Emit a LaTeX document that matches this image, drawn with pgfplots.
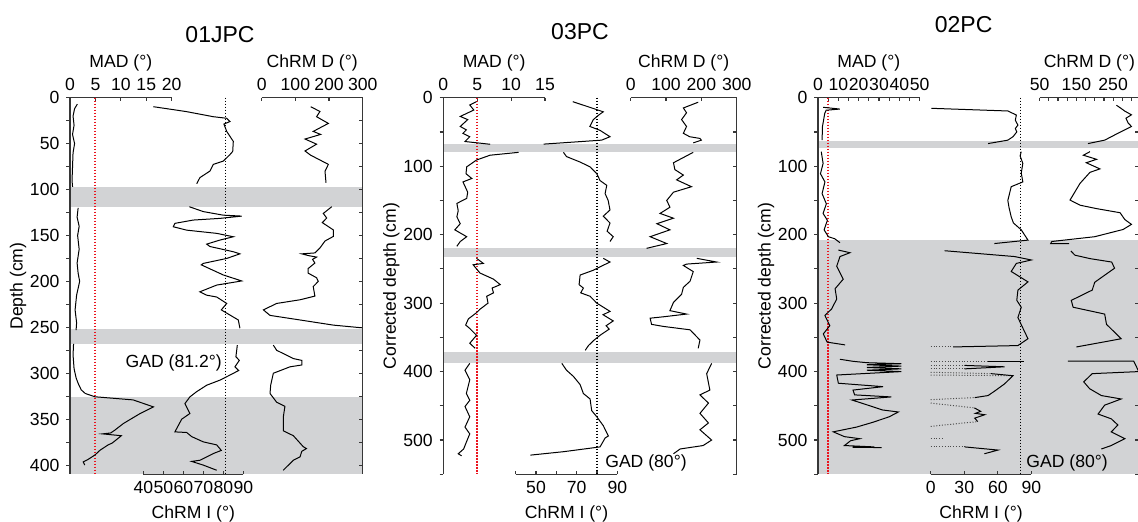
\documentclass[border=0pt]{standalone}
\usepackage{fontspec}
\setmainfont{Liberation Sans}
\usepackage{pgfplots}
\pgfplotsset{compat=1.18}
\definecolor{band}{RGB}{210,211,213}
\definecolor{axcol}{RGB}{55,55,55}
\definecolor{redd}{RGB}{235,20,30}
\newcommand{\fs}{\fontsize{8.8}{10}\selectfont}
\pgfplotsset{
  base/.style={scale only axis, clip=false, y dir=reverse, ymin=0, anchor=north west,
    axis line style={axcol, line width=0.7pt},
    tick style={axcol, line width=0.6pt},
    major tick length=1.8pt, minor tick length=1.8pt,
    tick label style={font=\fs, text=black},
    label style={font=\fs},
    /pgf/number format/assume math mode=true,
    cycle list={{black, mark=none, line width=0.5pt}},
  },
  frameL/.style={base, axis x line=none, axis y line*=left, tick align=outside, axis on top, ylabel shift=-5pt},
  frameR/.style={base, axis x line=none, axis y line*=right, tick align=inside, yticklabels={}},
  topax/.style={base, axis y line=none, axis x line*=top, tick align=inside, xlabel shift=-3.5pt},
  botax/.style={base, axis y line=none, axis x line*=bottom, tick align=inside, xlabel shift=-1pt},
  redl/.style={draw=redd, color=redd, dash pattern=on 0.9pt off 0.6pt, line width=1pt, mark=none},
  gadl/.style={draw=black, dash pattern=on 0.6pt off 0.9pt, line width=0.6pt, mark=none},
  dotl/.style={draw=black!70, dash pattern=on 0.5pt off 0.9pt, line width=0.5pt, mark=none},
  ln/.style={draw=black, line width=0.5pt, mark=none},
}
\begin{document}
\begin{tikzpicture}
\useasboundingbox (0,0) rectangle (569pt,-261pt);
%================ PANEL 1: 01JPC =================
\node[font=\fontsize{11.5}{13}\selectfont] at (110pt,-17.5pt) {01JPC};
\begin{axis}[frameL, at={(35pt,-48.85pt)}, width=146.35pt, height=188.3pt, ymax=410, xmin=0, xmax=1,
  ytick={0,50,...,400}, minor ytick={25,75,...,375}, ylabel={Depth (cm)}]
\addplot[fill=band, draw=none] coordinates {(0,97) (1,97) (1,119) (0,119)} -- cycle;
\addplot[fill=band, draw=none] coordinates {(0,252) (1,252) (1,268.6) (0,268.6)} -- cycle;
\addplot[fill=band, draw=none] coordinates {(0,325.7) (1,325.7) (1,410) (0,410)} -- cycle;
\end{axis}
\begin{axis}[frameR, at={(35pt,-48.85pt)}, width=146.35pt, height=188.3pt, ymax=410, xmin=0, xmax=1,
  ytick={0,50,...,400}, minor ytick={25,75,...,375}]
\end{axis}
% MAD
\begin{axis}[topax, at={(35pt,-48.85pt)}, width=50.85pt, height=188.3pt, ymax=410, xmin=0, xmax=20,
  xtick={0,5,...,20}, xlabel={MAD (°)}]
\addplot[redl] coordinates {(5,0) (5,410)};
\addplot[ln] coordinates {(1.44,7) (0.9,12) (0.6,20) (0.8,30) (0.5,40) (0.9,50) (0.6,60) (0.5,75) (0.4,90) (0.5,97)};
\addplot[ln] coordinates {(1.6,120) (1.4,130) (1.8,140) (1.5,150) (1.8,165) (1.4,180) (1.6,191) (1.9,200) (1.3,215) (1.0,231) (1.3,245) (1.2,253)};
\addplot[ln] coordinates {(0.7,268) (0.6,280) (0.8,295) (1.2,305) (1.6,311) (2.2,318) (3.0,322) (4.9,325.6) (8,327) (12.4,329) (16.4,336.6) (13.8,343.8) (10.5,354.7) (8.8,362) (8.0,365) (6.4,366) (10.1,368) (8.3,376) (7.5,378) (5.9,383.8) (4.9,389) (3.5,394) (2.6,396.5) (2.9,400)};
\end{axis}
% ChRM I
\begin{axis}[botax, at={(71.65pt,-48.85pt)}, width=50pt, height=188.3pt, ymax=410, xmin=40, xmax=90,
  xtick={40,50,...,90}, xlabel={ChRM I (°)}]
\addplot[gadl] coordinates {(81.2,0) (81.2,410)};
\node[font=\fs, anchor=east, inner sep=0pt] at (axis cs:79.4,289) {GAD (81.2°)};
\addplot[ln] coordinates {(45,9.8) (55,13) (61.7,15.2) (75,20.7) (81.7,22.4) (83.3,26) (80.3,28.7) (81.7,36.7) (85,47.6) (84.7,58.5) (83.3,62) (80,69) (75,72.6) (73.3,79.9) (68.3,87) (66.7,93.7)};
\addplot[ln] coordinates {(63,118.7) (70,124) (80,127.9) (89.2,128.9) (78.3,131.4) (65,133.2) (55.8,136.8) (55,140.5) (61.7,144.2) (76.7,147.7) (85,151.4) (78.3,155) (71.7,159.4) (73.3,162) (85,167.7) (88.3,170) (81.7,175) (70,180.4) (69,182) (80,193) (89.2,199.5) (76.7,204) (68.3,211.3) (71.7,215) (76.7,217) (81.7,224) (79,231) (83.3,236.6) (87.5,242) (88.3,251)};
\addplot[ln] coordinates {(87,269.4) (86.3,282) (88,286) (85.8,293) (87.7,297) (83.3,302) (78.3,307.5) (71.7,313) (66.7,320) (63.3,325.7) (60.8,333) (63.3,343.8) (59.2,350) (55.8,363.8) (61.7,364.5) (64.2,369) (70,374.7) (76.7,378) (79,384) (75,387.4) (68.3,394.7) (64.2,396) (70,400) (76.7,405.6)};
\end{axis}
% ChRM D
\begin{axis}[topax, at={(130.85pt,-48.85pt)}, width=50.5pt, height=188.3pt, ymax=410, xmin=0, xmax=300,
  xtick={0,100,200,300}, xlabel={ChRM D (°)}]
\addplot[ln] coordinates {(145.5,9.8) (173,15) (163,20.7) (198,28) (153,36.7) (175,40) (128.6,45) (163,50.6) (128.6,58) (145,62.5) (198,72.6) (188,80) (191,92.6)};
\addplot[ln] coordinates {(208,118.7) (183,126) (193,131) (180,136) (213,144) (213,151) (188,156) (173,163.6) (158,169) (119,170) (140,172) (163,173.5) (151,176) (158,180) (138,186) (138,191) (163,196) (168,200) (153,205.6) (158,216) (114,220) (44.5,224) (5,231) (24.6,237) (114,242) (213,247.6) (297,250.5)};
\addplot[ln] coordinates {(34.5,269.4) (44.5,275) (94,284) (119,286) (119,291) (84,293) (34.5,300) (26.7,313) (24.7,322) (44.5,331.6) (69,336) (64,348) (64,362.6) (94,368) (123.6,380) (133,382) (119,385) (114,391) (94,394.7) (64,405.6)};
\end{axis}
%================ PANEL 2: 03PC =================
\node[font=\fontsize{11.5}{13}\selectfont] at (290pt,-16pt) {03PC};
\begin{axis}[frameL, at={(221.65pt,-48.85pt)}, width=146.7pt, height=188.3pt, ymax=550, xmin=0, xmax=1,
  ytick={0,100,...,500}, minor ytick={50,150,...,550}, ylabel={Corrected depth (cm)}]
\addplot[fill=band, draw=none] coordinates {(0,68) (1,68) (1,79) (0,79)} -- cycle;
\addplot[fill=band, draw=none] coordinates {(0,219.7) (1,219.7) (1,232.3) (0,232.3)} -- cycle;
\addplot[fill=band, draw=none] coordinates {(0,372) (1,372) (1,387) (0,387)} -- cycle;
\end{axis}
\begin{axis}[frameR, at={(221.65pt,-48.85pt)}, width=146.7pt, height=188.3pt, ymax=550, xmin=0, xmax=1,
  ytick={0,100,...,500}, minor ytick={50,150,...,550}]
\end{axis}
\begin{axis}[topax, at={(221.65pt,-48.85pt)}, width=50.85pt, height=188.3pt, ymax=550, xmin=0, xmax=15,
  xtick={0,5,10,15}, xlabel={MAD (°)}]
\addplot[redl] coordinates {(5,0) (5,550)};
\addplot[ln] coordinates {(4.9,5.8) (3.9,10.6) (4.5,18) (2.5,27.4) (3.6,32) (2.5,42) (3.4,47) (2.9,52) (3.9,57) (3.2,64) (6.9,68)};
\addplot[ln] coordinates {(11.1,79.8) (6.9,84) (4.9,91) (3.45,101) (3.35,111) (4.2,118) (2.9,123) (3.6,138) (3.45,147) (2.0,154.4) (2.2,165) (2.0,174) (2.5,184) (1.7,193) (3.45,203) (2.5,210) (2.0,217)};
\addplot[ln] coordinates {(4.9,234.6) (5.9,242) (4.4,244) (5.4,256) (7.4,265) (8.4,273) (7.2,278) (7.4,285) (6.4,290) (6.6,300) (5.4,309) (4.9,314) (3.7,323) (3.3,332) (3.9,337) (4.9,347) (3.9,358.6) (4.7,366)};
\addplot[ln] coordinates {(3.9,388) (3.2,398) (3.9,412) (3.4,432) (3.9,442) (3.2,451) (3.9,466) (3.2,481) (3.9,491) (3.4,503) (3.0,513) (2.2,520) (2.7,523)};
\end{axis}
\begin{axis}[botax, at={(257.85pt,-48.85pt)}, width=50.8pt, height=188.3pt, ymax=550, xmin=40, xmax=90,
  xtick={40,50,...,90}, xticklabels={,50,,70,,90}, xlabel={ChRM I (°)}]
\addplot[gadl] coordinates {(80,0) (80,550)};
\node[font=\fs, anchor=west, inner sep=0pt] at (axis cs:83.9,533.6) {GAD (80°)};
\addplot[ln] coordinates {(68.1,5.8) (83.1,20.6) (81,25) (78.2,32) (76.5,42) (81.5,47.7) (86.4,57) (82.3,62) (53.7,67.8)};
\addplot[ln] coordinates {(63.5,79.8) (65,86) (71.7,94) (76.6,101) (79.9,111) (81.5,121) (84.8,128) (84,140) (85.5,150) (86.4,164) (83.1,173) (86.4,183) (85,195) (88,203) (86.4,210)};
\addplot[ln] coordinates {(83.1,234.6) (86.4,240) (81.5,247) (78.2,252) (71.7,259) (71.2,273) (73.3,278) (72,285) (76.6,290) (79.9,300) (86.4,312) (83,317) (88,326) (84.5,333) (86,338) (81.5,347) (78.2,355) (75.8,362) (74.2,369)};
\addplot[ln] coordinates {(62.7,388) (65,398) (68.4,407) (71.7,419) (73.3,432) (76.6,440) (77.4,457) (79.9,466) (83.1,479) (85.6,494) (84,497) (81.5,510) (63.5,517) (47.2,522)};
\end{axis}
\begin{axis}[topax, at={(315.35pt,-48.85pt)}, width=53pt, height=188.3pt, ymax=550, xmin=0, xmax=300,
  xtick={0,100,200,300}, xlabel={ChRM D (°)}]
\addplot[ln] coordinates {(191,6.6) (149,15) (158,22) (144,32) (158,42) (149,52) (167,57) (196,59.5) (200,62) (177,66)};
\addplot[ln] coordinates {(177,79.8) (121,95) (125,105) (149,113) (130,120) (172,130) (121,138) (102,150) (111,160) (83,169) (121,176) (74,184) (111,193) (55,203) (102,213) (45,220)};
\addplot[ln] coordinates {(187,234.6) (243,240) (158,243) (149,245) (177,254) (168,268) (149,277) (144,287) (121,299) (111,311) (158,316) (92,320) (55,322) (59,331) (92,334) (168,339) (196,354) (191,366)};
\addplot[ln] coordinates {(229,388) (215,403) (224,427) (196,434) (220,446) (196,461) (220,475) (196,485) (229,500) (205,508) (140,513) (121,520)};
\end{axis}
%================ PANEL 3: 02PC =================
\node[font=\fontsize{11.5}{13}\selectfont] at (481.8pt,-12.5pt) {02PC};
\begin{axis}[frameL, at={(409pt,-48.85pt)}, width=160.5pt, height=188.3pt, ymax=550, xmin=0, xmax=1,
  ytick={0,100,...,500}, minor ytick={50,150,...,550}, ylabel={Corrected depth (cm)}]
\addplot[fill=band, draw=none] coordinates {(0,63.4) (1,63.4) (1,73) (0,73)} -- cycle;
\addplot[fill=band, draw=none] coordinates {(0,207.9) (1,207.9) (1,550) (0,550)} -- cycle;
\end{axis}
\begin{axis}[frameR, at={(409pt,-48.85pt)}, width=160.5pt, height=188.3pt, ymax=550, xmin=0, xmax=1,
  ytick={0,100,...,500}, minor ytick={50,150,...,550}]
\end{axis}
\begin{axis}[topax, at={(409pt,-48.85pt)}, width=50.85pt, height=188.3pt, ymax=550, xmin=0, xmax=50,
  xtick={0,10,...,50}, minor xtick={5,15,...,45}, xlabel={MAD (°)}]
\addplot[redl] coordinates {(5,0) (5,550)};
\addplot[ln] coordinates {(2.5,14) (10.7,16.6) (4,18.3) (3.3,23) (2.2,42) (2.0,62)};
\addplot[ln] coordinates {(1.6,78.8) (2.5,96) (1.2,111) (3.4,123) (2.0,140) (4.1,155) (2.5,169) (4.6,179) (3.0,193) (5.1,203) (8.2,206) (10.8,211.8)};
\addplot[ln] coordinates {(10,222.5) (15.7,226.4) (10.8,232) (9.2,246) (12.4,265) (8.4,279) (9.2,294) (6.7,308.5) (3.4,318) (5.8,333) (2.6,345) (4.5,357) (13.3,361)};
\addplot[ln] coordinates {(10.8,382) (17.2,385) (24,387) (41,388.5) (24,390) (41,392) (24,394) (41,396) (24,398) (41,400) (9.2,405) (10,417) (32,422) (17.2,427) (18,434) (36,437) (16.7,441.5) (24.5,449) (31.6,456) (39.5,459) (35,466) (27,474) (19,481) (7.5,488) (13,495) (20.5,498) (16,501) (13,508) (27.7,510) (17,510.5) (31.3,511)};
\end{axis}
\begin{axis}[botax, at={(465.35pt,-48.85pt)}, width=50.3pt, height=188.3pt, ymax=550, xmin=0, xmax=90,
  xtick={0,30,60,90}, xlabel={ChRM I (°)}]
\addplot[gadl] coordinates {(80,0) (80,550)};
\node[font=\fs, anchor=west, inner sep=0pt] at (axis cs:85.3,533.6) {GAD (80°)};
\addplot[ln] coordinates {(0.6,15.5) (69,19.4) (76.6,25.3) (75.7,33) (78,40) (75.7,45) (77,50) (73.6,57) (69,62) (51.3,67)};
\addplot[ln] coordinates {(81,78.8) (80,85) (82.4,96) (81,110) (82.4,123) (72,130) (69,150) (70,160) (72,174) (74,183) (81,193) (87,208) (57,213)};
\addplot[ln] coordinates {(12.5,223.5) (75,232) (90,237) (76.6,242) (72,253.8) (87,269) (78,281) (77,296) (81,306) (78,321) (82,335) (87,352) (78,362) (20,364)};
\addplot[dotl] coordinates {(0,364) (20,364)};
\addplot[ln] coordinates {(51,385) (83,385)};
\addplot[dotl] coordinates {(0,385) (51,385)};
\addplot[ln] coordinates {(30.4,391) (66,393) (30.4,396)};
\addplot[dotl] coordinates {(0,391) (30.4,391)};
\addplot[dotl] coordinates {(0,396) (30.4,396)};
\addplot[dotl] coordinates {(0,401) (54,403)};
\addplot[dotl] coordinates {(0,405) (73.6,406)};
\addplot[ln] coordinates {(54,403) (73.6,406) (66,418) (57.6,428) (51.3,435) (39.4,438)};
\addplot[dotl] coordinates {(0,441) (39.4,438)};
\addplot[dotl] coordinates {(0,446) (39,453)};
\addplot[ln] coordinates {(39,453) (44.7,458) (40,461) (48.3,463) (39.4,468) (42,473)};
\addplot[dotl] coordinates {(0,480) (42,473)};
\addplot[dotl] coordinates {(0,497) (12,497)};
\addplot[dotl] coordinates {(0,510) (30.4,510)};
\addplot[ln] coordinates {(30.4,510) (60.2,514.6) (48,520)};
\end{axis}
\begin{axis}[topax, at={(519.85pt,-48.85pt)}, width=49.65pt, height=188.3pt, ymax=550, xmin=50, xmax=320.6,
  xtick={50,150,250}, minor xtick={75,100,125,175,200,225,275,300}, xlabel={ChRM D (°)}]
\addplot[ln] coordinates {(259,11) (270,15) (281.6,19.5) (300,25) (285,30) (291,37) (300,42) (263,52) (227,62) (181.6,67)};
\addplot[ln] coordinates {(187,78.8) (169,84) (205,90) (177,95) (214,104) (187,109) (160,125) (132.6,149.5) (160,157) (205,162) (269,168) (282,178) (300,185) (277,192.5) (200,203) (83,210) (80,213) (130,213)};
\addplot[ln] coordinates {(135,224) (146,230) (187,235) (246,240) (254,249) (200,269.5) (193,281) (136,296) (141,306) (227,316) (232,331) (272,352) (232,356) (150,364)};
\addplot[ln] coordinates {(127,384.6) (306,384.6) (320,400) (193,403) (170,415) (186,425) (218,435) (272,440) (227,449) (209,462) (245,469) (263,478) (245,488) (282,498) (245,508) (218,513)};
\end{axis}
\end{tikzpicture}
\end{document}
